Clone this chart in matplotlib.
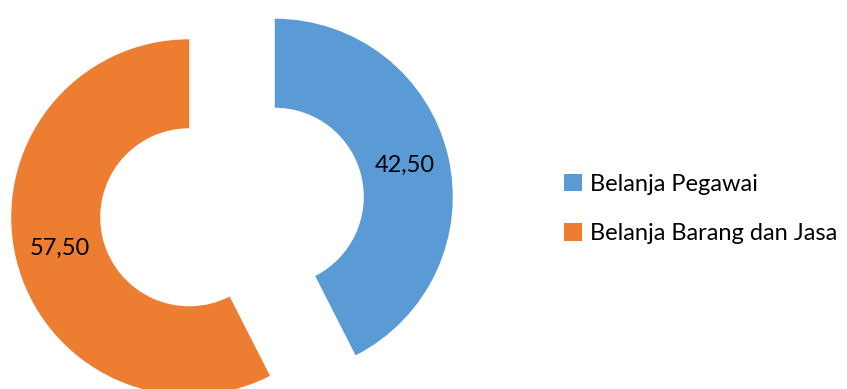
import matplotlib.pyplot as plt

# spending breakdown
categories = ['Belanja Pegawai', 'Belanja Barang dan Jasa']
values = [42.50, 57.50]
colors = ['#5B9BD5', '#ED7D31']

plt.rcParams['font.family'] = ['Lato', 'DejaVu Sans']

W, H = 847, 389
fig = plt.figure(figsize=(W / 100, H / 100), dpi=100)
ax = fig.add_axes([0, 0, 1, 1])

radius = 178
wedges, texts, autotexts = ax.pie(
    values,
    colors=colors,
    startangle=90,
    counterclock=False,
    radius=radius,
    center=(232, H - 207),
    explode=[44, 44],
    wedgeprops=dict(width=89, linewidth=0),
    autopct=lambda p: f'{p:.2f}'.replace('.', ','),
    pctdistance=0.75,
    textprops=dict(fontsize=17, color='black'),
    frame=True,
)
ax.set_xlim(0, W)
ax.set_ylim(0, H)
ax.set_aspect('equal')
ax.axis('off')

ax.legend(wedges, categories, loc='center left',
          bbox_to_anchor=(543 / W, 1 - 209 / H), frameon=False,
          fontsize=17, handlelength=0.75, handleheight=0.75,
          handletextpad=0.35, labelspacing=1.2)

fig.savefig('out.png', dpi=100)
